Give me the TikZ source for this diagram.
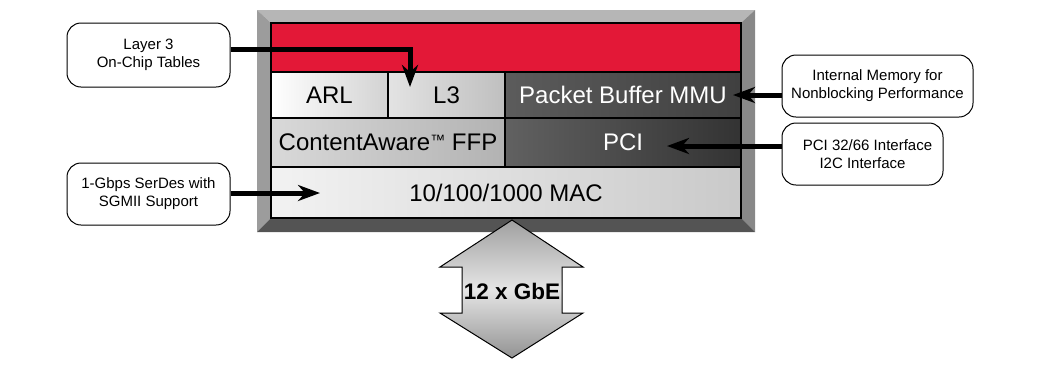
\documentclass[tikz,border=0pt]{standalone}
\usepackage{fontspec}
\setmainfont{Liberation Sans}
\usetikzlibrary{arrows.meta}
\definecolor{chipred}{HTML}{E31837}
\definecolor{bevtop}{HTML}{B6B6B6}
\definecolor{bevleft}{HTML}{9C9C9C}
\definecolor{bevright}{HTML}{888888}
\definecolor{bevbot}{HTML}{545454}
\begin{document}
\begin{tikzpicture}[
  x=1pt,y=-1pt,
  cell/.style={rectangle,draw=black,line width=1.3pt,inner sep=0pt,font=\fontsize{24}{26}\selectfont},
  darkcell/.style={cell,text=white},
  callout/.style={rectangle,draw,rounded corners=14pt,line width=1pt,fill=white,align=center,inner sep=0pt,font=\fontsize{15}{18}\selectfont},
  arrow/.style={-{Stealth[length=22pt,width=16pt,inset=7pt]},line width=5pt}
]
\useasboundingbox (0,0) rectangle (1047,368);

\fill[bevtop] (257,10) -- (755,10) -- (741,23) -- (271,23) -- cycle;
\fill[bevleft] (257,10) -- (271,23) -- (271,218) -- (257,232) -- cycle;
\fill[bevright] (755,10) -- (741,23) -- (741,218) -- (755,232) -- cycle;
\fill[bevbot] (257,232) -- (271,218) -- (741,218) -- (755,232) -- cycle;

\node[cell,fill=chipred,minimum width=470pt,minimum height=49pt] (red) at (506,47.5) {};
\node[cell,left color=white,right color=gray!35,minimum width=117pt,minimum height=46pt] (arl) at (329.5,95) {ARL};
\node[cell,left color=gray!22,right color=gray!50,minimum width=117pt,minimum height=46pt] (l3) at (446.5,95) {L3};
\node[darkcell,left color=black!64,right color=black!75,minimum width=236pt,minimum height=46pt] (mmu) at (623,95) {Packet Buffer MMU};
\node[cell,left color=gray!30,right color=gray!60,minimum width=234pt,minimum height=49pt] (ffp) at (388,142.5) {ContentAware\raisebox{5pt}{\fontsize{15}{15}\selectfont ™} FFP};
\node[darkcell,left color=black!62,right color=black!80,minimum width=236pt,minimum height=49pt] (pci) at (623,142.5) {PCI};
\node[cell,left color=gray!10,right color=gray!42,minimum width=470pt,minimum height=51pt] (mac) at (506,192.5) {10/100/1000 MAC};

\draw[line width=1pt,top color=gray!75,bottom color=gray!85,middle color=gray!20]
  (512,220) -- (583,267) -- (562,267) -- (562,313) -- (583,313) -- (512,358)
  -- (440,313) -- (462,313) -- (462,267) -- (440,267) -- cycle;
\node[font=\fontsize{22.5}{24}\selectfont\bfseries] (gbe) at (512,291) {12 x GbE};

\node[callout,minimum width=163pt,minimum height=64pt] (tables) at (148.5,55) {Layer 3\\On-Chip Tables};
\node[callout,minimum width=163pt,minimum height=62pt] (serdes) at (148.5,194) {1-Gbps SerDes with\\SGMII Support};
\node[callout,minimum width=191pt,minimum height=62pt] (memory) at (877.5,86) {Internal Memory for\\Nonblocking Performance};
\node[callout,minimum width=161pt,minimum height=62pt] (pciif) at (862.5,154) {\hspace{10pt}PCI 32/66 Interface\\I2C Interface};

\coordinate (l3tip) at (410,87);
\coordinate (mactip) at (320,193);
\coordinate (mmutip) at (733,95);
\coordinate (pcitip) at (667,146);

\draw[arrow] ([yshift=6pt]tables.east) -| (l3tip);
\draw[arrow] (serdes.east |- mactip) -- (mactip);
\draw[arrow] (memory.west |- mmutip) -- (mmutip);
\draw[arrow] (pciif.west |- pcitip) -- (pcitip);
\end{tikzpicture}
\end{document}
